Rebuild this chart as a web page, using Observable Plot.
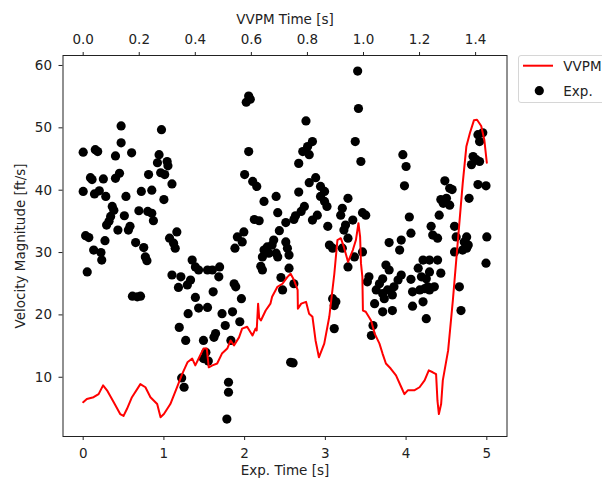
<!DOCTYPE html>
<html>
<head>
<meta charset="utf-8">
<script src="https://cdn.jsdelivr.net/npm/d3@7"></script>
<script src="https://cdn.jsdelivr.net/npm/@observablehq/plot@0.6"></script>
<style>
  html, body { margin: 0; padding: 0; background: #fff; overflow: hidden; }
  #wrap { position: relative; width: 602px; height: 479px; }
  .legend { position: absolute; left: 518px; top: 55px; width: 100px; height: 48px;
            border: 1px solid #d6d6d6; border-radius: 3px; box-sizing: border-box; background: #fff; }
  .legend text { font-family: "DejaVu Sans"; font-size: 13.5px; fill: #222; }
</style>
</head>
<body>
<div id="wrap"></div>
<script>
// ---- Experimental data (Exp. Time [s], Velocity Magnitude [ft/s]) ----
const expTime = [
  0.00,0.15,0.18,0.47,0.97,0.47,0.40,0.60,0.94,0.92,1.04,1.05,0.96,1.01,0.81,1.10,1.00,0.85,0.72,0.09,
  0.11,0.25,0.40,0.45,0.00,0.14,0.20,0.28,0.53,0.36,0.38,0.69,0.80,0.85,0.51,0.34,0.32,0.87,0.58,0.56,
  0.43,0.29,0.03,0.07,0.27,0.65,0.13,0.22,0.23,0.75,0.77,0.79,0.05,0.61,0.67,0.71,1.16,1.07,1.12,1.14,
  1.10,1.21,1.35,1.39,1.43,1.54,1.33,1.29,1.18,1.39,1.43,1.54,1.30,1.19,1.27,1.49,1.49,1.52,1.55,1.22,
  1.25,
  2.05,2.07,2.02,2.76,2.84,2.78,2.72,2.80,2.05,2.67,2.00,2.10,2.15,2.80,2.88,2.94,2.99,2.94,2.67,2.39,
  2.24,2.99,3.02,2.74,2.70,3.28,3.21,3.19,3.25,3.23,3.28,3.21,3.28,2.41,2.63,2.61,2.90,2.84,2.12,2.18,
  2.51,3.03,2.43,1.99,1.97,1.91,1.88,2.36,2.34,2.28,2.24,2.30,2.22,2.51,2.53,2.55,2.39,2.41,3.05,3.09,
  2.20,2.22,2.55,2.45,2.47,2.61,1.60,1.69,1.68,1.87,1.89,1.61,1.96,1.72,1.85,1.76,1.94,1.64,1.62,1.83,
  2.57,2.60,1.80,1.80,1.78,3.09,3.13,3.11,3.11,
  3.40,3.41,3.37,3.44,3.34,3.46,3.50,3.36,3.46,3.98,3.96,4.00,4.04,4.06,3.79,3.94,3.92,4.31,4.29,4.21,
  4.15,3.75,3.79,3.54,3.52,3.71,3.67,3.94,3.90,3.85,4.06,4.19,4.25,3.63,3.71,3.77,3.83,4.08,4.17,4.23,
  4.29,3.61,3.73,3.71,3.83,4.08,4.21,4.25,3.59,3.57,4.89,4.95,4.91,4.83,4.87,4.91,4.81,4.89,4.99,4.78,
  4.48,4.54,4.57,4.43,4.50,4.54,4.46,4.41,4.33,4.39,4.60,4.62,4.75,4.72,4.77,4.70,4.60,4.75,5.00,4.99,
  4.39,4.29,4.43,4.27,4.35,4.66,4.68
];
const expVelocity = [
  46.1,46.5,46.2,50.3,49.7,47.6,45.5,46.0,45.7,44.4,44.6,43.9,42.8,42.5,42.5,41.0,38.5,40.0,39.8,42.0,
  41.7,41.8,41.9,42.7,39.8,39.4,39.9,39.0,39.0,37.4,36.8,36.7,36.6,36.3,35.9,35.8,35.0,35.1,34.2,33.6,
  33.6,34.4,32.7,32.4,31.9,31.6,30.4,30.0,28.8,30.8,29.3,28.7,26.9,23.0,22.9,23.0,33.3,32.3,31.5,30.7,
  26.4,26.1,28.8,27.7,27.2,27.2,25.6,24.8,24.4,22.8,21.1,21.2,20.2,18.0,15.9,15.9,13.0,14.0,12.6,9.9,
  8.4,
  55.1,54.6,54.1,51.1,47.8,47.0,46.2,45.7,46.2,44.3,42.5,41.4,40.6,41.2,42.0,40.6,39.8,39.0,39.7,39.0,
  38.2,38.2,37.4,37.4,36.6,38.7,37.1,36.0,34.4,33.6,32.3,30.7,27.7,36.4,35.9,35.3,36.0,35.2,35.3,35.1,
  34.8,34.2,33.5,33.3,31.7,32.5,30.7,32.0,31.2,30.9,30.4,29.9,29.3,31.7,30.7,29.6,29.9,29.3,31.2,30.7,
  27.8,27.2,27.5,26.0,24.0,25.0,27.2,27.7,26.1,25.0,24.5,23.7,22.6,20.2,20.5,18.3,18.9,17.0,16.4,15.9,
  12.4,12.3,9.2,7.6,3.3,22.6,22.1,21.5,17.8,
  59.1,53.1,47.8,44.6,35.2,36.4,36.0,29.3,30.1,40.7,45.7,43.8,35.7,33.1,31.6,32.0,30.4,34.2,28.8,28.8,
  27.5,28.0,27.2,26.1,25.3,25.8,25.0,26.4,25.6,24.5,25.7,26.1,25.8,24.0,23.4,24.0,23.2,23.7,24.0,24.2,
  24.0,21.8,22.6,20.5,20.7,21.4,22.1,19.4,18.3,16.7,48.9,49.2,47.8,45.4,44.9,44.6,44.1,40.9,40.7,38.7,
  41.5,40.3,40.1,38.5,38.7,37.6,37.9,36.0,32.8,32.3,34.2,32.5,32.5,31.7,31.2,30.4,30.1,30.7,32.5,28.3,
  28.8,26.9,26.7,24.5,24.5,24.5,20.7
];

// ---- VVPM simulation (VVPM Time [s], Velocity Magnitude [ft/s]) ----
const vvpmTime = [
  0.000,0.013,0.037,0.055,0.071,0.085,0.109,0.132,0.144,0.156,0.174,0.204,0.222,0.240,0.264,0.276,0.288,
  0.311,0.335,0.353,0.372,0.389,0.400,0.412,0.429,0.441,0.448,0.461,0.478,0.495,0.514,0.526,0.538,0.556,
  0.567,0.585,0.604,0.615,0.619,0.624,0.628,0.634,0.651,0.668,0.674,0.693,0.711,0.729,0.740,0.752,0.765,
  0.766,0.778,0.795,0.806,0.818,0.829,0.841,0.860,0.878,0.896,0.907,0.919,0.930,0.945,0.962,0.973,0.982,
  0.988,0.991,0.996,0.998,1.008,1.027,1.040,1.057,1.068,1.080,1.097,1.116,1.135,1.146,1.158,1.181,1.200,
  1.218,1.233,1.247,1.259,1.264,1.269,1.277,1.283,1.302,1.319,1.336,1.354,1.367,1.380,1.394,1.405,1.420,
  1.431,1.440
];
const vvpmVelocity = [
  6.0,6.5,6.8,7.3,8.7,7.9,6.0,4.1,3.8,4.9,6.8,8.9,8.4,6.8,5.7,3.6,4.1,
  5.7,8.4,10.5,12.4,13.0,11.9,13.0,14.6,14.6,11.6,11.9,12.2,13.8,14.6,15.9,15.1,16.4,
  17.8,18.1,16.7,17.8,17.5,21.8,19.5,19.1,20.7,21.8,22.9,24.5,25.0,26.1,26.6,25.6,24.0,
  21.0,21.8,22.1,20.2,19.7,15.9,13.2,15.4,19.7,26.6,32.0,32.3,30.9,28.5,30.4,32.0,34.7,
  32.5,28.3,26.1,20.7,20.5,19.1,17.0,15.4,13.8,12.2,11.4,10.3,8.4,7.3,7.9,7.9,8.4,
  9.5,11.1,10.8,10.5,6.2,4.1,5.7,9.5,14.3,22.4,31.5,41.1,47.0,49.2,51.2,51.3,50.3,
  48.1,44.4
];

// ---- Axis ticks ----
const expTicks = [0, 1, 2, 3, 4, 5];
const vvpmTicks = [0.0, 0.2, 0.4, 0.6, 0.8, 1.0, 1.2, 1.4];
const velocityTicks = [10, 20, 30, 40, 50, 60];
const expEnd = 5.0, vvpmEnd = 1.44;   // both series span the same horizontal extent
const ratio = expEnd / vvpmEnd;

const expData = expTime.map((t, i) => ({t, v: expVelocity[i]}));
const vvpmData = vvpmTime.map((t, i) => ({t, v: vvpmVelocity[i]}));

const chart = Plot.plot({
  width: 602,
  height: 479,
  marginLeft: 62.5,
  marginRight: 95.5,
  marginTop: 55,
  marginBottom: 43,
  style: {fontFamily: "DejaVu Sans", fontSize: "13.5px", color: "#222", background: "#fff"},
  x: {domain: [-0.25, 5.25]},
  y: {domain: [0.5, 61.6]},
  marks: [
    Plot.dot(expData, {x: "t", y: "v", r: 4.6, fill: "black", stroke: "none"}),
    Plot.line(vvpmData, {x: d => d.t * ratio, y: "v", stroke: "#ff0000", strokeWidth: 2}),
    Plot.frame({stroke: "#222", strokeWidth: 1}),
    Plot.axisY({ticks: velocityTicks, anchor: "left", tickSize: 4, tickPadding: 7, label: null, tickFormat: d => String(d)}),
    Plot.axisX({ticks: expTicks, anchor: "bottom", tickSize: 4, tickPadding: 7.5, label: null, tickFormat: d => String(d)}),
    Plot.axisX({ticks: vvpmTicks.map(v => v * ratio), anchor: "top", tickSize: 4, tickPadding: 8, label: null,
                tickFormat: d => (d / ratio).toFixed(1)}),
    Plot.text(["Exp. Time [s]"], {text: d => d, frameAnchor: "bottom", dy: 34, textAnchor: "middle", lineAnchor: "middle", fill: "#222"}),
    Plot.text(["VVPM Time [s]"], {text: d => d, frameAnchor: "top", dy: -36, textAnchor: "middle", lineAnchor: "middle", fill: "#222"}),
    Plot.text(["Velocity Magnitude [ft/s]"], {text: d => d, frameAnchor: "left", dx: -42.5, rotate: -90, textAnchor: "middle", lineAnchor: "middle", fill: "#222"})
  ]
});

const wrap = document.getElementById("wrap");
wrap.appendChild(chart);

const legend = document.createElement("div");
legend.className = "legend";
legend.innerHTML = `
<svg width="100" height="46" xmlns="http://www.w3.org/2000/svg">
  <line x1="4" x2="34" y1="9.7" y2="9.7" stroke="#ff0000" stroke-width="2"/>
  <circle cx="20.3" cy="34.7" r="4.6" fill="black"/>
  <text x="44.3" y="14.9">VVPM</text>
  <text x="44.3" y="39.9">Exp.</text>
</svg>`;
wrap.appendChild(legend);
</script>
</body>
</html>
